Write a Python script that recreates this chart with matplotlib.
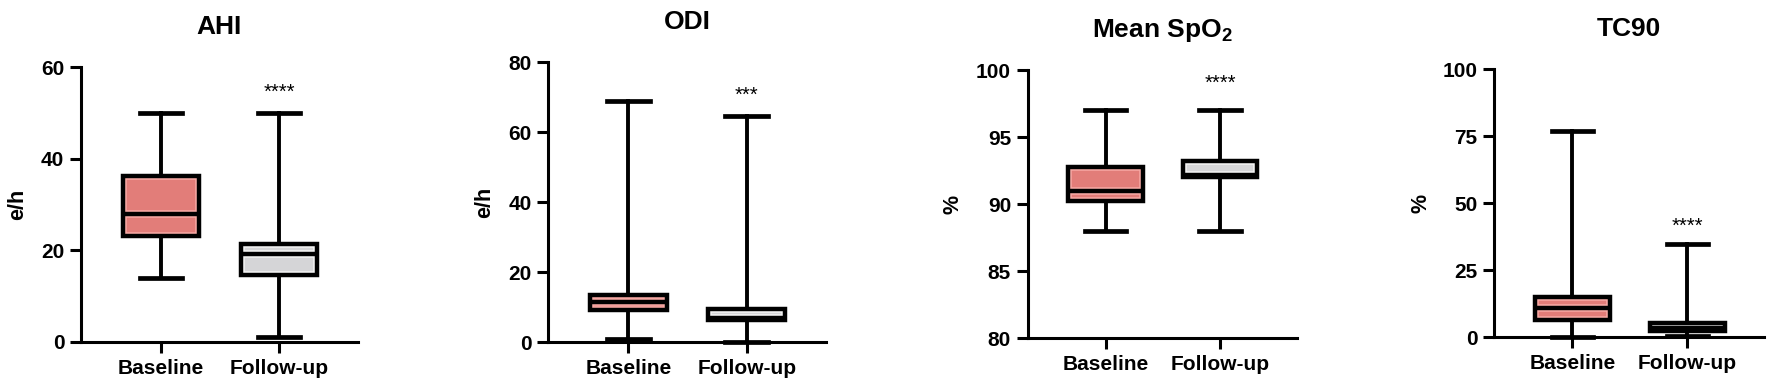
import matplotlib
matplotlib.use("Agg")
import matplotlib.pyplot as plt
from matplotlib.patches import PathPatch

plt.rcParams["font.family"] = ["Liberation Sans", "DejaVu Sans"]
plt.rcParams["font.weight"] = "bold"
plt.rcParams["mathtext.fontset"] = "custom"
plt.rcParams["mathtext.rm"] = "Liberation Sans:bold"
plt.rcParams["mathtext.default"] = "rm"

groups = ["Baseline", "Follow-up"]

titles = ["AHI", "ODI", "Mean SpO$_2$", "TC90"]
ylabels = ["e/h", "e/h", "%", "%"]
stars = ["****", "***", "****", "****"]
star_y = [54.5, 70.5, 99.0, 41.5]

# min, q1, median, q3, max for [baseline, follow-up]
ahi = [[14, 23.1, 28.0, 36.3, 50], [1.0, 14.6, 19.1, 21.3, 50]]
odi = [[1.0, 9.3, 11.6, 13.5, 68.8], [0.2, 6.4, 7.0, 9.6, 64.6]]
spo2 = [[88, 90.2, 91.0, 92.8, 97], [88, 92.0, 92.2, 93.2, 97]]
tc90 = [[0.2, 6.6, 10.8, 15.0, 77], [0.5, 2.3, 3.6, 5.2, 34.7]]

ylims = [(0, 60), (0, 80), (80, 100), (0, 100)]
yticks = [[0, 20, 40, 60], [0, 20, 40, 60, 80], [80, 85, 90, 95, 100], [0, 25, 50, 75, 100]]

# axes boxes in figure fraction
positions = [
    [0.0457, 0.1231, 0.1563, 0.7049],
    [0.3093, 0.1223, 0.1568, 0.7187],
    [0.5800, 0.1326, 0.1518, 0.6879],
    [0.8433, 0.1350, 0.1524, 0.6873],
]
label_x = [-0.192, -0.19, -0.238, -0.232]

fills = ["#E27D79", "#D5D5D7"]
lights = ["#F8AAA5", "#F4F4F4"]
edge_lw = 3.2

fig = plt.figure(figsize=(17.72, 3.9), dpi=100)

for i, data in enumerate([ahi, odi, spo2, tc90]):
    ax = fig.add_axes(positions[i])
    stats = []
    for j, (lo, q1, med, q3, hi) in enumerate(data):
        stats.append({"whislo": lo, "q1": q1, "med": med, "q3": q3, "whishi": hi, "label": groups[j]})
    bp = ax.bxp(stats, positions=[0, 1], widths=0.65, patch_artist=True, showfliers=False,
                capwidths=0.36,
                boxprops=dict(linewidth=0, edgecolor="none"),
                medianprops=dict(linewidth=edge_lw, color="black"),
                whiskerprops=dict(linewidth=2.8, color="black"),
                capprops=dict(linewidth=3.4, color="black"))
    for j, box in enumerate(bp["boxes"]):
        box.set_facecolor(fills[j])
        box.set_zorder(2)
        # thin light rim just inside the black outline
        rim = PathPatch(box.get_path(), transform=box.get_transform(), facecolor="none",
                        edgecolor=lights[j], linewidth=edge_lw + 2.2, zorder=2.1)
        ax.add_patch(rim)
        rim.set_clip_path(box)
        med = bp["medians"][j]
        med_rim, = ax.plot(med.get_xdata(), med.get_ydata(), color=lights[j],
                           linewidth=edge_lw + 2.2, zorder=2.2, solid_capstyle="butt")
        med_rim.set_clip_path(box)
        med.set_zorder(2.3)
        med.set_solid_capstyle("butt")
        outline = PathPatch(box.get_path(), transform=box.get_transform(), facecolor="none",
                            edgecolor="black", linewidth=edge_lw, zorder=2.4)
        ax.add_patch(outline)
    for artist in bp["whiskers"] + bp["caps"]:
        artist.set_clip_on(False)

    ax.set_xlim(-0.68, 1.67)
    ax.set_ylim(*ylims[i])
    ax.set_yticks(yticks[i])
    ax.set_xticks([0, 1])
    ax.set_xticklabels(groups)
    ax.spines["top"].set_visible(False)
    ax.spines["right"].set_visible(False)
    ax.spines["left"].set_linewidth(2.2)
    ax.spines["bottom"].set_linewidth(2.2)
    ax.tick_params(axis="both", width=2.2, length=8, labelsize=15, pad=4)
    for lab in ax.get_xticklabels() + ax.get_yticklabels():
        lab.set_fontweight("bold")

    ax.set_title(titles[i], fontsize=19, fontweight="bold", pad=24)
    ax.set_ylabel(ylabels[i], fontsize=15.5, fontweight="bold")
    ax.yaxis.set_label_coords(label_x[i], 0.5)

    ax.text(1, star_y[i], stars[i], ha="center", va="center", fontsize=14.5, fontweight="normal")

fig.savefig("out.png", dpi=100)
